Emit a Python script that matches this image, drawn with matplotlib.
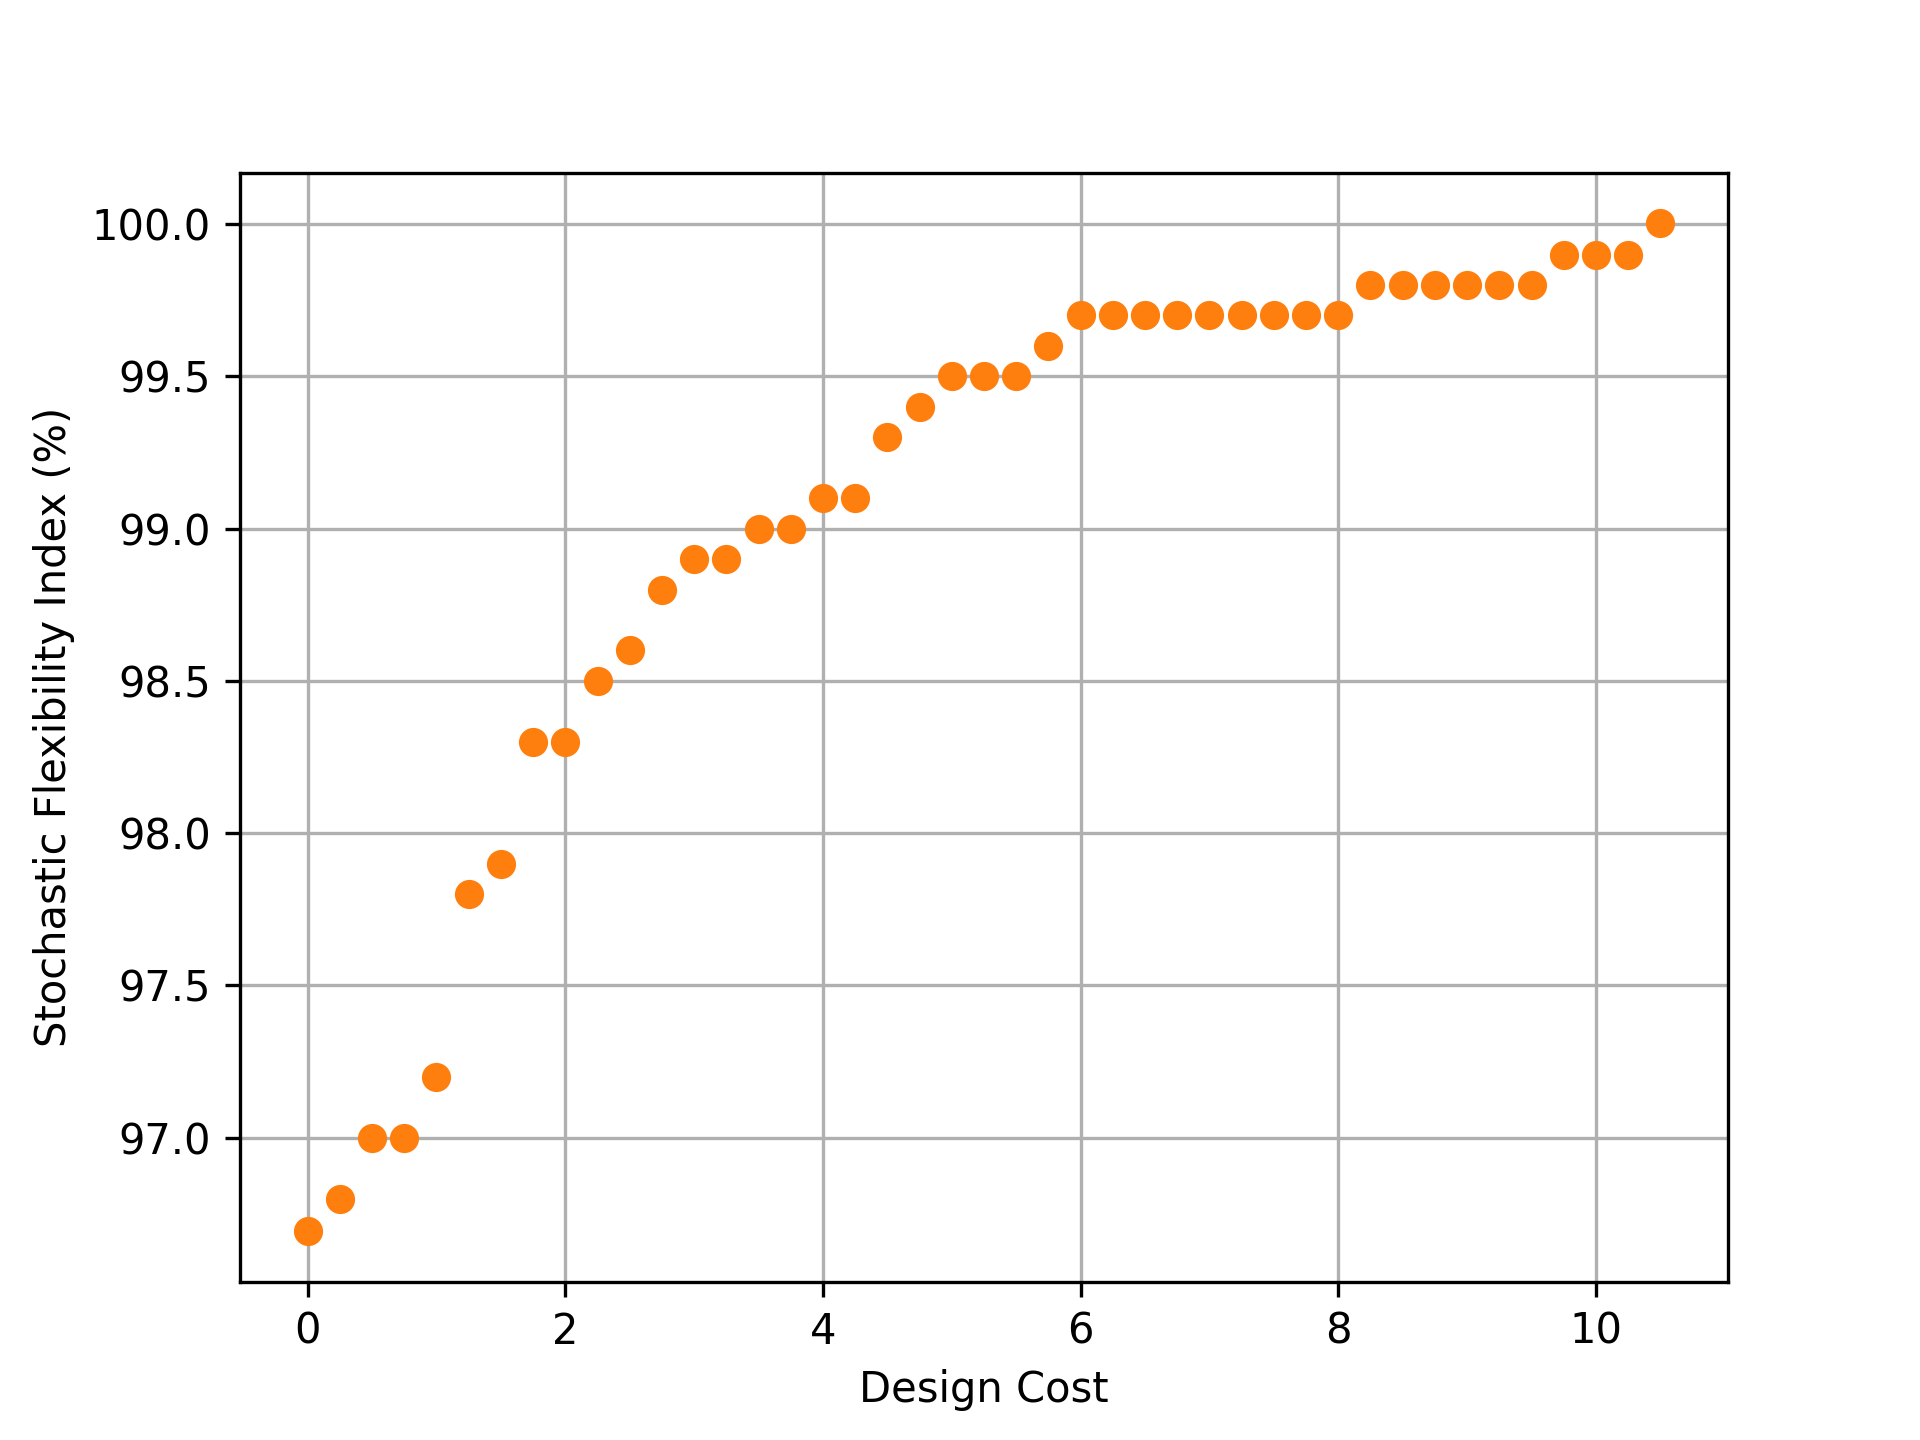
import matplotlib
matplotlib.use("Agg")
import matplotlib.pyplot as plt

design_cost = [0, 0.25, 0.5, 0.75, 1.0, 1.25, 1.5, 1.75, 2.0, 2.25, 2.5, 2.75,
               3.0, 3.25, 3.5, 3.75, 4.0, 4.25, 4.5, 4.75, 5.0, 5.25, 5.5, 5.75,
               6.0, 6.25, 6.5, 6.75, 7.0, 7.25, 7.5, 7.75, 8.0,
               8.25, 8.5, 8.75, 9.0, 9.25, 9.5,
               9.75, 10.0, 10.25, 10.5]
flex_index = [96.693, 96.8, 97.0, 97.0, 97.2, 97.8, 97.9, 98.3, 98.3, 98.5, 98.6, 98.8,
              98.9, 98.9, 99.0, 99.0, 99.1, 99.1, 99.3, 99.4, 99.5, 99.5, 99.5, 99.6,
              99.7, 99.7, 99.7, 99.7, 99.7, 99.7, 99.7, 99.7, 99.7,
              99.8, 99.8, 99.8, 99.8, 99.8, 99.8,
              99.9, 99.9, 99.9, 100.003]

fig, ax = plt.subplots(figsize=(6.4, 4.8), dpi=300)
ax.plot(design_cost, flex_index, 'o', color='#ff7f0e')
ax.set_xlabel('Design Cost')
ax.set_ylabel('Stochastic Flexibility Index (%)')
ax.grid(True)
fig.savefig('out.png', dpi=300)
